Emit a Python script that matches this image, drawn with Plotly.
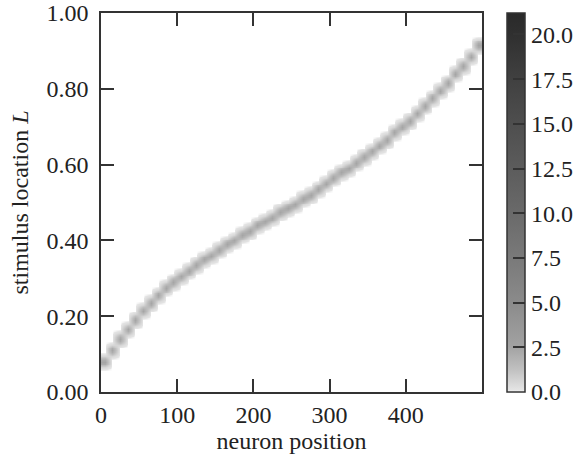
import plotly.graph_objects as go

# neuron position bins (centres, width 10) and band centre
neuron_pos = [5, 15, 25, 35, 45, 55, 65, 75, 85, 95,
              105, 115, 125, 135, 145, 155, 165, 175, 185, 195,
              205, 215, 225, 235, 245, 255, 265, 275, 285, 295,
              305, 315, 325, 335, 345, 355, 365, 375, 385, 395,
              405, 415, 425, 435, 445, 455, 465, 475, 485, 495]
stim_center = [0.08, 0.11, 0.14, 0.165, 0.19, 0.215, 0.235, 0.255, 0.275, 0.29,
               0.305, 0.32, 0.335, 0.35, 0.36, 0.375, 0.39, 0.40, 0.415, 0.425,
               0.44, 0.45, 0.46, 0.475, 0.485, 0.495, 0.51, 0.52, 0.535, 0.55,
               0.565, 0.58, 0.59, 0.605, 0.62, 0.635, 0.65, 0.665, 0.685, 0.70,
               0.715, 0.735, 0.755, 0.775, 0.795, 0.815, 0.84, 0.86, 0.885, 0.915]
# counts at distance 0..4 rows (0.005 each) from the band centre
band_profile = [2.4, 2.1, 1.4, 0.6, 0.15]
stim_bins = [round(0.005 * i, 3) for i in range(201)]

z = []
for yb in stim_bins:
    row = []
    for c in stim_center:
        d = int(round(abs(yb - c) / 0.005))
        row.append(band_profile[d] if d < len(band_profile) else 0)
    z.append(row)

font_family = "Liberation Serif"
text_col = "#222222"
axis_col = "#333333"

colorscale = [
    [0.0, "#ffffff"], [0.005, "#e4e4e4"], [0.06, "#c0c0c0"], [0.12, "#a2a2a2"],
    [0.24, "#8a8a8a"], [0.35, "#7a7a7a"], [0.47, "#6a6a6a"], [0.59, "#5c5c5c"],
    [0.71, "#4e4e4e"], [0.83, "#404040"], [0.94, "#303030"], [1.0, "#2a2a2a"],
]

fig = go.Figure(go.Heatmap(
    x=neuron_pos, y=stim_bins, z=z,
    zmin=0, zmax=21.2, zsmooth="best",
    colorscale=colorscale,
    colorbar=dict(
        x=1.0656, xanchor="left", xref="paper",
        y=0.5, yanchor="middle", len=1.0, lenmode="fraction",
        thickness=18, ypad=0, xpad=0,
        outlinecolor=axis_col, outlinewidth=1.5,
        ticks="inside", ticklen=12, tickcolor="#333333", tickwidth=1.5,
        tickvals=[0, 2.5, 5, 7.5, 10, 12.5, 15, 17.5, 20],
        tickformat=".1f",
        tickfont=dict(family=font_family, size=24, color=text_col),
    ),
))

fig.update_layout(
    width=585, height=455,
    margin=dict(l=101, r=103, t=13, b=63, autoexpand=False),
    paper_bgcolor="white", plot_bgcolor="white",
    font=dict(family=font_family, size=24, color=text_col),
)
fig.update_xaxes(
    range=[0, 500], tickvals=[0, 100, 200, 300, 400],
    ticks="inside", ticklen=13, tickwidth=1.5, tickcolor=axis_col,
    showline=True, linecolor=axis_col, linewidth=1.5, mirror="ticks",
    showgrid=False, zeroline=False, automargin=False,
    title=dict(text="neuron position", standoff=0, font=dict(size=24)),
    ticklabelstandoff=0,
)
fig.update_yaxes(
    range=[0, 1], tickvals=[0, 0.2, 0.4, 0.6, 0.8, 1.0], tickformat=".2f",
    ticks="inside", ticklen=13, tickwidth=1.5, tickcolor=axis_col,
    showline=True, linecolor=axis_col, linewidth=1.5, mirror="ticks",
    showgrid=False, zeroline=False, automargin=False,
    title=dict(text="stimulus location <i>L</i>", standoff=11, font=dict(size=24)),
    ticklabelstandoff=6,
)

fig.write_html(
    "out.html",
    config={"displayModeBar": False},
    post_script="document.body.style.margin='0';document.body.style.overflow='hidden';",
)
